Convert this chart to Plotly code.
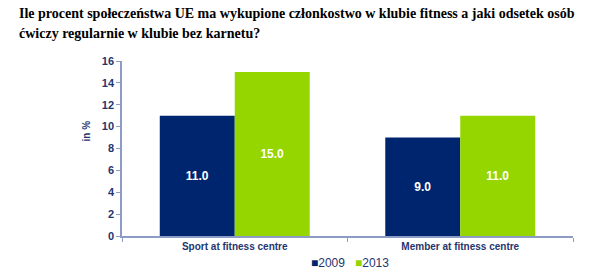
import plotly.graph_objects as go

categories = ["Sport at fitness centre", "Member at fitness centre"]
years = ["2009", "2013"]
values_2009 = [11.0, 9.0]
values_2013 = [15.0, 11.0]
colors = ["#00256F", "#95D500"]
title_lines = ["Ile procent społeczeństwa UE ma wykupione członkostwo w klubie fitness a jaki odsetek osób",
               "ćwiczy regularnie w klubie bez karnetu?"]

W, H = 609, 278
L, R, T, B = 122, 36, 61, 42
PW, PH = W - L - R, H - T - B
navy = "#1F3570"
axis_col = "#8C9CC4"

fig = go.Figure()
for name, vals, col in zip(years, [values_2009, values_2013], colors):
    fig.add_trace(go.Bar(
        x=categories, y=vals, name=name, marker_color=col,
        marker_line_width=0,
        text=[f"{v:.1f}" for v in vals], textposition="inside",
        insidetextanchor="middle",
        textfont=dict(family="Liberation Sans", size=12, color="white", weight="bold"),
    ))

legend_html = "&nbsp;&nbsp;&nbsp;".join(
    f"<span style='color:{c}'>■</span>{y}" for y, c in zip(years, colors))

annotations = []
for line, ypix in zip(title_lines, [14, 34]):
    annotations.append(dict(
        text=line, xref="paper", yref="paper",
        x=(17 - L) / PW, xanchor="left",
        y=1 + (T - ypix) / PH, yanchor="middle", align="left", showarrow=False,
        font=dict(family="Liberation Serif", size=14, color="black", weight="bold")))
annotations += [
    dict(text="in %", xref="paper", yref="paper", x=(78 - L) / PW,
         y=0.6, textangle=-90, showarrow=False,
         font=dict(family="Liberation Sans", size=10, color=navy, weight="bold")),
    dict(text=legend_html, xref="paper", yref="paper",
         x=(350 - L) / PW, xanchor="center",
         y=-(263 - (H - B)) / PH, yanchor="middle", showarrow=False,
         font=dict(family="Liberation Sans", size=12, color=navy)),
]

fig.update_layout(
    width=W, height=H,
    margin=dict(l=L, r=R, t=T, b=B, autoexpand=False),
    paper_bgcolor="white", plot_bgcolor="white",
    barmode="group", bargap=0.335, bargroupgap=0,
    showlegend=False,
    xaxis=dict(showline=True, linecolor=axis_col, linewidth=1.5,
               ticks="outside", tickson="boundaries", ticklen=4, tickcolor=axis_col,
               tickfont=dict(family="Liberation Sans", size=10, color=navy, weight="bold"),
               showgrid=False),
    yaxis=dict(range=[0, 16], dtick=2, showline=True, linecolor=axis_col, linewidth=1.5,
               ticks="outside", ticklen=4, tickcolor=axis_col, showgrid=False, zeroline=False,
               tickfont=dict(family="Liberation Sans", size=11, color=navy, weight="bold")),
    annotations=annotations,
)

fig.write_html("out.html")
